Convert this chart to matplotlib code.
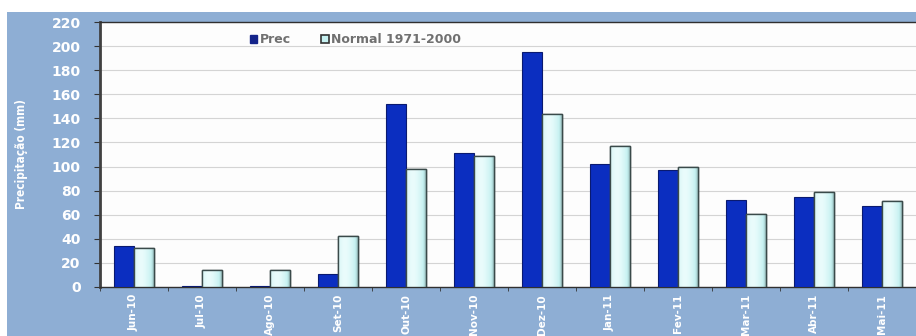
import numpy as np
import matplotlib
matplotlib.use("Agg")
import matplotlib.pyplot as plt
from matplotlib.patches import Rectangle

months = ["Jun-10", "Jul-10", "Ago-10", "Set-10", "Out-10", "Nov-10",
          "Dez-10", "Jan-11", "Fev-11", "Mar-11", "Abr-11", "Mai-11"]
prec = [34, 1, 1, 11, 152, 111, 195, 102, 97, 72, 75, 67]
normal = [32, 14, 14, 42, 98, 109, 144, 117, 100, 61, 79, 71]
y_ticks = list(range(0, 221, 20))

BG = "#8eaed4"
PREC_C = "#0b2ec0"
NORM_C = "#c6f1f1"
EDGE = "#3a4a4a"

fig = plt.figure(figsize=(9.16, 3.36), dpi=100)
fig.patch.set_facecolor("white")
# blue panel behind the chart
fig.add_artist(Rectangle((7 / 916, 0), 1, 1 - 12 / 336, transform=fig.transFigure,
                         facecolor=BG, edgecolor="none", zorder=0))

ax = fig.add_axes([100 / 916, 1 - 287 / 336, 1 - 100 / 916, (287 - 22) / 336])
ax.set_facecolor("#fdfdfd")

x = np.arange(len(months))
w = 0.29
ax.bar(x - w / 2 - 0.005, prec, width=w, color=PREC_C, edgecolor="#0a1a70",
       linewidth=0.8, zorder=3)
bars_n = ax.bar(x + w / 2 + 0.005, normal, width=w, color=NORM_C, edgecolor=EDGE,
                linewidth=1.0, zorder=3)

# shading across the light bars
grad = np.linspace(0, 1, 64)
shade = np.clip(1 - 0.9 * np.abs(grad - 0.35) ** 1.6 * 1.6, 0, 1)
cmap = matplotlib.colors.LinearSegmentedColormap.from_list("n", ["#5f7f7f", NORM_C, "#eafcfc"])
for b in bars_n:
    x0, w0, h0 = b.get_x(), b.get_width(), b.get_height()
    im = ax.imshow(shade[np.newaxis, :], extent=(x0, x0 + w0, 0, h0), aspect="auto",
                   cmap=cmap, vmin=0, vmax=1, zorder=3.5, interpolation="bilinear")
    im.set_clip_path(b)
    ax.add_patch(Rectangle((x0, 0), w0, h0, facecolor="none", edgecolor=EDGE,
                           linewidth=1.0, zorder=4))

ax.set_xlim(-0.5, len(months) - 0.5)
ax.set_ylim(0, 220)
ax.set_yticks(y_ticks)
ax.set_yticklabels([str(v) for v in y_ticks], color="white", fontweight="bold",
                   fontsize=10, fontfamily="DejaVu Sans")
ax.yaxis.grid(True, color="#d4d4d4", linewidth=0.8, zorder=0)
ax.set_axisbelow(True)

ax.set_xticks(x)
ax.set_xticklabels(months, rotation=90, color="white", fontweight="bold", fontsize=7.5)
ax.tick_params(axis="x", which="major", length=0, pad=5)
ax.set_xticks(np.arange(-0.5, len(months), 1), minor=True)
ax.tick_params(axis="x", which="minor", length=3, color="#333333", direction="out")
ax.tick_params(axis="y", length=4, color="#333333", pad=10)

ax.spines["right"].set_visible(False)
ax.spines["left"].set_color("#404040")
ax.spines["left"].set_linewidth(2.0)
ax.spines["top"].set_color("#303030")
ax.spines["top"].set_linewidth(1.0)
ax.spines["bottom"].set_color("#303030")
ax.spines["bottom"].set_linewidth(1.0)

ax.set_ylabel("Precipitação (mm)", color="white", fontsize=8.5, fontweight="bold",
              fontstretch="condensed")
ax.yaxis.set_label_coords(-0.088, 0.5)

handles = [Rectangle((0, 0), 1, 1, facecolor="#14248a", edgecolor="#14248a"),
           Rectangle((0, 0), 1, 1, facecolor=NORM_C, edgecolor="#333333", linewidth=1.2)]
leg = ax.legend(handles, ["Prec", "Normal 1971-2000"], ncol=2, frameon=False,
                loc="upper left", bbox_to_anchor=(0.17, 1.0), handlelength=0.6,
                handleheight=0.6, handletextpad=0.2, columnspacing=2.4,
                prop={"size": 9, "weight": "bold"})
for t in leg.get_texts():
    t.set_color("#707070")

fig.savefig("out.png", dpi=100, facecolor=fig.get_facecolor())
